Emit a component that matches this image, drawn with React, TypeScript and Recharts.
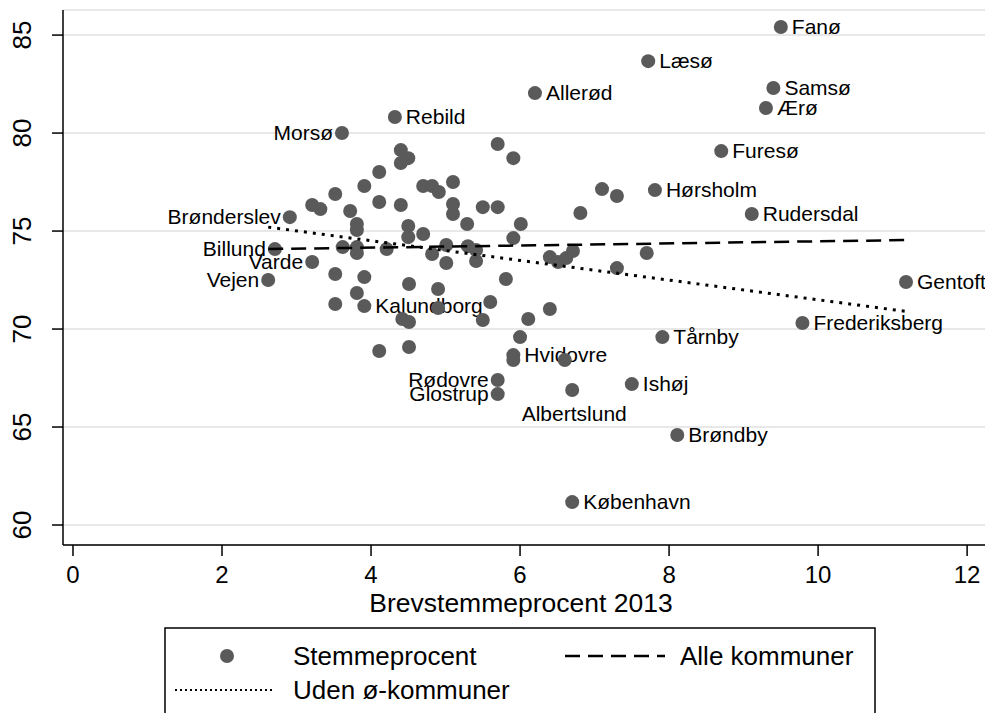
import React from "react";
import { ComposedChart, Scatter, XAxis, YAxis, CartesianGrid } from "recharts";

// navngivne kommuner først, derefter de umærkede punkter
const navne = [
  "Fanø", "Læsø", "Samsø", "Ærø", "Allerød", "Rebild", "Morsø", "Furesø",
  "Hørsholm", "Rudersdal", "Brønderslev", "Billund", "Varde", "Vejen",
  "Gentofte", "Frederiksberg", "Tårnby", "Kalundborg", "Hvidovre", "Rødovre",
  "Glostrup", "Albertslund", "Ishøj", "Brøndby", "København",
];

const brevstemme = [
  9.5, 7.72, 9.4, 9.3, 6.2, 4.32, 3.61, 8.7, 7.81, 9.11, 2.91, 2.71, 3.21,
  2.62, 11.18, 9.79, 7.91, 3.91, 5.91, 5.7, 5.7, 6.7, 7.5, 8.11, 6.7,
  4.4, 4.5, 4.4, 4.11, 3.91, 3.52, 4.7, 4.82, 4.91, 5.1, 3.21, 3.32, 3.72,
  4.11, 4.4, 5.1, 5.1, 3.81, 3.81, 4.5, 4.5, 4.7, 5.29, 5.01, 3.62, 3.81,
  3.81, 4.21, 4.82, 5.01, 5.7, 5.91, 5.5, 5.7, 6.01, 5.91, 5.3, 5.41, 5.41,
  7.1, 7.3, 6.81, 6.4, 6.51, 6.62, 6.71, 7.7, 7.3, 3.52, 3.91, 4.51, 4.9,
  3.81, 3.52, 4.9, 4.42, 4.51, 4.11, 4.51, 5.81, 5.6, 5.5, 6.11, 6.4, 6.0,
  5.91, 6.6,
];

const stemme = [
  85.41, 83.67, 82.3, 81.28, 82.04, 80.82, 80.0, 79.08, 77.09, 75.87, 75.71,
  74.08, 73.42, 72.5, 72.4, 70.31, 69.59, 71.17, 68.67, 67.4, 66.68, 66.89,
  67.19, 64.59, 61.17,
  79.13, 78.72, 78.47, 78.01, 77.3, 76.89, 77.3, 77.3, 76.99, 77.5, 76.33,
  76.12, 76.02, 76.48, 76.33, 76.38, 75.87, 75.36, 75.05, 75.26, 74.69,
  74.85, 75.36, 74.29, 74.18, 74.18, 73.88, 74.08, 73.83, 73.37, 79.44,
  78.72, 76.22, 76.22, 75.36, 74.64, 74.23, 74.03, 73.47, 77.14, 76.79,
  75.92, 73.67, 73.42, 73.62, 73.98, 73.88, 73.11, 72.81, 72.65, 72.3,
  72.04, 71.84, 71.28, 71.07, 70.51, 70.36, 68.88, 69.08, 72.55, 71.38,
  70.46, 70.51, 71.02, 69.59, 68.42, 68.42,
];

// regressionslinjer (endepunkter)
const linjeX = [2.62, 11.18];
const alleKommuner = [74.08, 74.54];
const udenOKommuner = [75.2, 70.9];

const xTicks = [0, 2, 4, 6, 8, 10, 12];
const yTicks = [60, 65, 70, 75, 80, 85];

const FONT = '"Liberation Sans", Arial, Helvetica, sans-serif';
const DOT = "#5a5a5a";

const venstre = new Set(["Morsø", "Brønderslev", "Billund", "Varde", "Vejen", "Rødovre", "Glostrup"]);
const under = new Set(["Albertslund"]);

function Punkt(props: any) {
  const { cx, cy } = props;
  const navn: string = props.payload?.navn ?? props.navn ?? "";
  let label = null;
  if (navn) {
    if (under.has(navn)) {
      label = (
        <text x={cx + 2} y={cy + 31} textAnchor="middle" fontSize={21} fontFamily={FONT} fill="#000">
          {navn}
        </text>
      );
    } else if (venstre.has(navn)) {
      label = (
        <text x={cx - 9} y={cy + 7} textAnchor="end" fontSize={21} fontFamily={FONT} fill="#000">
          {navn}
        </text>
      );
    } else {
      label = (
        <text x={cx + 11} y={cy + 7} textAnchor="start" fontSize={21} fontFamily={FONT} fill="#000">
          {navn}
        </text>
      );
    }
  }
  return (
    <g>
      <circle cx={cx} cy={cy} r={7} fill={DOT} />
      {label}
    </g>
  );
}

function YTick(props: any) {
  const { x, y, payload } = props;
  return (
    <text
      x={x}
      y={y}
      transform={`rotate(-90, ${x}, ${y})`}
      textAnchor="middle"
      fontSize={26}
      fontFamily={FONT}
      fill="#000"
    >
      {payload.value}
    </text>
  );
}

export default function App() {
  const punkter = brevstemme.map((x, i) => ({ navn: navne[i] ?? "", x, y: stemme[i] }));
  const alle = linjeX.map((x, i) => ({ x, y: alleKommuner[i] }));
  const uden = linjeX.map((x, i) => ({ x, y: udenOKommuner[i] }));

  return (
    <div style={{ position: "absolute", left: 0, top: 0, width: 1000, height: 713, background: "#fff" }}>
      <ComposedChart width={1000} height={713} margin={{ top: 10, right: 15, bottom: 88, left: 0 }}>
        <CartesianGrid vertical={false} stroke="#e8e8e8" strokeWidth={2} />
        <XAxis
          type="number"
          dataKey="x"
          domain={[-0.134, 12.24]}
          ticks={xTicks}
          allowDataOverflow
          height={80}
          tickSize={11}
          tickMargin={10}
          axisLine={{ stroke: "#000", strokeWidth: 1.5 }}
          tickLine={{ stroke: "#000", strokeWidth: 1.5 }}
          tick={{ fontSize: 24, fill: "#000", fontFamily: FONT }}
        />
        <YAxis
          type="number"
          dataKey="y"
          domain={[58.98, 86.28]}
          ticks={yTicks}
          allowDataOverflow
          width={63}
          tickSize={11}
          tickMargin={21}
          axisLine={{ stroke: "#000", strokeWidth: 1.5 }}
          tickLine={{ stroke: "#000", strokeWidth: 1.5 }}
          tick={<YTick />}
        />
        <Scatter data={punkter} shape={<Punkt />} isAnimationActive={false} />
        <Scatter
          data={alle}
          line={{ stroke: "#000", strokeWidth: 2.5, strokeDasharray: "15 8" }}
          shape={() => <g />}
          isAnimationActive={false}
        />
        <Scatter
          data={uden}
          line={{ stroke: "#000", strokeWidth: 3, strokeDasharray: "3 6" }}
          shape={() => <g />}
          isAnimationActive={false}
        />
      </ComposedChart>
      <svg
        width={1000}
        height={713}
        style={{ position: "absolute", left: 0, top: 0, pointerEvents: "none" }}
        fontFamily={FONT}
      >
        <text x={521} y={612} textAnchor="middle" fontSize={26.5} fill="#000">
          Brevstemmeprocent 2013
        </text>
        <path d="M165,713 L165,628 L875,628 L875,713" fill="none" stroke="#000" strokeWidth={1.5} />
        <circle cx={227} cy={656} r={7} fill={DOT} />
        <text x={293} y={665} fontSize={26} fill="#000">Stemmeprocent</text>
        <line x1={565} y1={656} x2={665} y2={656} stroke="#000" strokeWidth={2.5} strokeDasharray="15 8" />
        <text x={680} y={665} fontSize={26} fill="#000">Alle kommuner</text>
        <line x1={175} y1={690} x2={275} y2={690} stroke="#000" strokeWidth={2} strokeDasharray="2 3" />
        <text x={293} y={699} fontSize={26} fill="#000">Uden ø-kommuner</text>
      </svg>
    </div>
  );
}
